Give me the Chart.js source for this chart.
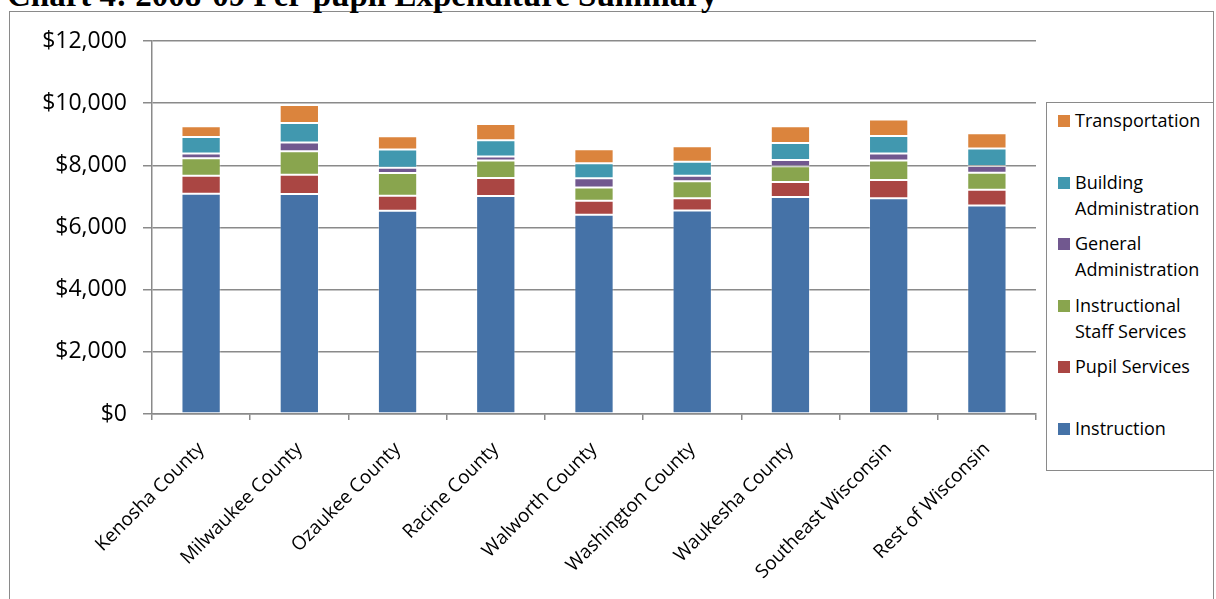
<!DOCTYPE html>
<html>
<head>
<meta charset="utf-8">
<script src="https://cdn.jsdelivr.net/npm/chart.js@4"></script>
<style>
  body { margin: 0; background: #fff; }
  #page { position: relative; width: 1216px; height: 599px; overflow: hidden; background: #fff; }
  #title {
    position: absolute; left: 7px; top: -21px;
    font: bold 33px "Liberation Serif", "Times New Roman", serif;
    line-height: 33px; white-space: nowrap; color: #000;
  }
  #frame {
    position: absolute; left: 9px; top: 11px; width: 1205px; height: 600px;
    border: 1.5px solid #8a8a8a; box-sizing: border-box;
  }
  #chartBox { position: absolute; left: 0; top: 0; }
  #legend {
    position: absolute; left: 1046px; top: 102px; width: 168px; height: 369px;
    border: 1.5px solid #8a8a8a; box-sizing: border-box; background: #fff;
    font: 18px "Open Sans", sans-serif; color: #000;
  }
  .item { position: absolute; left: 11px; height: 61.5px; }
  .swatch { position: absolute; left: 0; top: 12px; width: 12px; height: 12px; }
  .text { position: absolute; left: 17px; top: 4px; width: 135px; line-height: 26px; }
</style>
</head>
<body>
<div id="page">
  <div id="frame"></div>
  <div id="title">Chart 4: 2008-09 Per-pupil Expenditure Summary</div>
  <div id="chartBox"><canvas id="expChart" width="1216" height="599"></canvas></div>
  <div id="legend"></div>
</div>
<script>
const categories = [
    'Kenosha County', 'Milwaukee County', 'Ozaukee County', 'Racine County',
    'Walworth County', 'Washington County', 'Waukesha County',
    'Southeast Wisconsin', 'Rest of Wisconsin'
];

// per-pupil dollars
const instruction       = [7087, 7074, 6539, 7010, 6410, 6548, 6978, 6945, 6710];
const pupilServices     = [581, 626, 484, 580, 451, 397, 484, 581, 506];
const instrStaffService = [558, 752, 729, 562, 429, 539, 506, 626, 548];
const generalAdmin      = [151, 280, 174, 129, 291, 184, 204, 225, 214];
const buildingAdmin     = [536, 633, 580, 525, 484, 451, 548, 568, 561];
const transportation    = [345, 580, 429, 526, 451, 494, 538, 529, 493];

const yTicks = [0, 2000, 4000, 6000, 8000, 10000, 12000];

const series = [
    { label: 'Instruction', data: instruction, color: '#4572A7' },
    { label: 'Pupil Services', data: pupilServices, color: '#AA4643' },
    { label: 'Instructional Staff Services', data: instrStaffService, color: '#89A54E' },
    { label: 'General Administration', data: generalAdmin, color: '#71588F' },
    { label: 'Building Administration', data: buildingAdmin, color: '#4198AF' },
    { label: 'Transportation', data: transportation, color: '#DB843D' }
];

const axisGray = '#8a8a8a';
const tickFont = { family: "'Open Sans', sans-serif", size: 19 };

const ctx = document.getElementById('expChart').getContext('2d');

new Chart(ctx, {
    type: 'bar',
    data: {
        labels: categories,
        datasets: series.map(s => ({
            label: s.label,
            data: s.data,
            backgroundColor: s.color,
            borderColor: 'rgba(255,255,255,0.3)',
            borderWidth: 1,
            borderSkipped: false,
            barPercentage: 0.4,
            categoryPercentage: 1
        }))
    },
    options: {
        responsive: false,
        animation: false,
        devicePixelRatio: 1,
        layout: { padding: { left: 0, top: 41, right: 180, bottom: 0 } },
        plugins: {
            legend: { display: false },
            tooltip: { enabled: false }
        },
        scales: {
            x: {
                stacked: true,
                grid: {
                    offset: true,
                    drawOnChartArea: false,
                    drawTicks: true,
                    tickLength: 6,
                    color: axisGray,
                    lineWidth: 1.5
                },
                border: { color: axisGray, width: 1.5 },
                ticks: {
                    color: '#000',
                    font: tickFont,
                    minRotation: 45,
                    maxRotation: 45,
                    autoSkip: false,
                    padding: 18
                },
                afterFit: scale => { scale.height = 185; }
            },
            y: {
                stacked: true,
                min: 0,
                max: 12000,
                afterBuildTicks: scale => { scale.ticks = yTicks.map(v => ({ value: v })); },
                grid: {
                    color: axisGray,
                    lineWidth: 1.5,
                    tickLength: 9
                },
                border: { color: axisGray, width: 1.5 },
                ticks: {
                    color: '#000',
                    font: { family: "'Open Sans', sans-serif", size: 23 },
                    padding: 16,
                    callback: v => '$' + Number(v).toLocaleString('en-US')
                },
                afterFit: scale => { scale.width = 152; }
            }
        }
    }
});

// legend, top entry is the top of the stack
const legendEl = document.getElementById('legend');
series.slice().reverse().forEach((s, i) => {
    const item = document.createElement('div');
    item.className = 'item';
    item.style.top = (i * 61.5) + 'px';
    const sw = document.createElement('div');
    sw.className = 'swatch';
    sw.style.background = s.color;
    const tx = document.createElement('div');
    tx.className = 'text';
    tx.textContent = s.label;
    item.appendChild(sw);
    item.appendChild(tx);
    legendEl.appendChild(item);
});
</script>
</body>
</html>
